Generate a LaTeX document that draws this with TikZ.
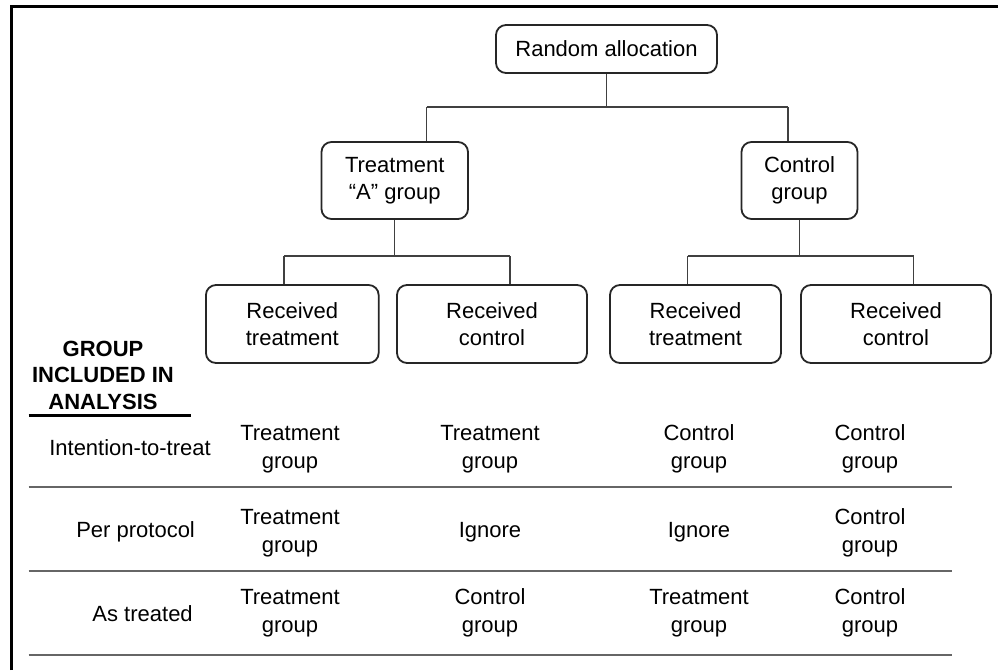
\documentclass[tikz,border=0pt]{standalone}
\usepackage{fontspec}
\setmainfont{Liberation Sans}
\begin{document}
\begin{tikzpicture}[x=1pt,y=-1pt,
  every node/.style={font=\fontsize{22}{26.5}\selectfont, inner sep=0pt, align=center},
  boxnode/.style={draw=black!85, line width=1.8pt, rounded corners=10pt},
  conn/.style={draw=black!75, line width=1.3pt},
  sepline/.style={draw=black!60, line width=2pt},
  cell/.style={font=\fontsize{22}{27.7}\selectfont, align=center}]
\useasboundingbox (0,0) rectangle (998,670);
% frame
\draw[line width=3pt] (11,670) -- (11,6.8) -- (998,6.8);
% tree boxes
\node[boxnode, minimum width=221pt, minimum height=48pt] (ra) at (606.5,49) {Random allocation};
\node[boxnode, minimum width=146.5pt, minimum height=77pt] (ta) at (394.75,180.5) {Treatment\\“A” group};
\node[boxnode, minimum width=116pt, minimum height=77pt] (cg) at (799.5,180.5) {Control\\group};
\node[boxnode, minimum width=172.7pt, minimum height=78pt] (b1) at (292.3,324) {Received\\treatment};
\node[boxnode, minimum width=190pt, minimum height=78pt] (b2) at (492,324) {Received\\control};
\node[boxnode, minimum width=171pt, minimum height=78pt] (b3) at (695.5,324) {Received\\treatment};
\node[boxnode, minimum width=190pt, minimum height=78pt] (b4) at (896,324) {Received\\control};
% junction coordinates
\coordinate (j0) at (606.5,107);
\coordinate (k1) at (426.5,107);
\coordinate (k2) at (788,107);
\coordinate (l1) at (284,256);
\coordinate (l2) at (510,256);
\coordinate (m1) at (687.5,256);
\coordinate (m2) at (913.5,256);
% connectors
\draw[conn] (ra.south) -- (j0);
\draw[conn] (k1) -- (k2);
\draw[conn] (k1) -- (k1 |- ta.north);
\draw[conn] (k2) -- (k2 |- cg.north);
\draw[conn] (ta.south) -- (ta.south |- l1);
\draw[conn] (l1) -- (l2);
\draw[conn] (l1) -- (l1 |- b1.north);
\draw[conn] (l2) -- (l2 |- b2.north);
\draw[conn] (cg.south) -- (cg.south |- m1);
\draw[conn] (m1) -- (m2);
\draw[conn] (m1) -- (m1 |- b3.north);
\draw[conn] (m2) -- (m2 |- b4.north);
% header
\node[font=\fontsize{22}{26.5}\selectfont\bfseries] (hdr) at (103,375) {GROUP\\INCLUDED IN\\ANALYSIS};
\coordinate (u1) at (28.6,415);
\coordinate (u2) at (191,415);
\draw[line width=3pt] (u1) -- (u2);
% row labels
\node (r1) at (130,448) {Intention-to-treat};
\node (r2) at (135.6,532) {Per protocol};
\node (r3) at (142.6,613.5) {As treated};
% cells row 1
\node[cell] (c11) at (290,449) {Treatment\\group};
\node[cell] (c12) at (490,449) {Treatment\\group};
\node[cell] (c13) at (699,449) {Control\\group};
\node[cell] (c14) at (870,449) {Control\\group};
% cells row 2
\node[cell] (c21) at (290,533) {Treatment\\group};
\node[cell] (c22) at (490,532) {Ignore};
\node[cell] (c23) at (699,532) {Ignore};
\node[cell] (c24) at (870,533) {Control\\group};
% cells row 3
\node[cell] (c31) at (290,613) {Treatment\\group};
\node[cell] (c32) at (490,613) {Control\\group};
\node[cell] (c33) at (699,613) {Treatment\\group};
\node[cell] (c34) at (870,613) {Control\\group};
% separators
\coordinate (s1a) at (28.6,487);  \coordinate (s1b) at (951.6,487);
\coordinate (s2a) at (28.6,571);  \coordinate (s2b) at (951.6,571);
\coordinate (s3a) at (28.6,655);  \coordinate (s3b) at (951.6,655);
\draw[sepline] (s1a) -- (s1b);
\draw[sepline] (s2a) -- (s2b);
\draw[sepline] (s3a) -- (s3b);
\end{tikzpicture}
\end{document}
